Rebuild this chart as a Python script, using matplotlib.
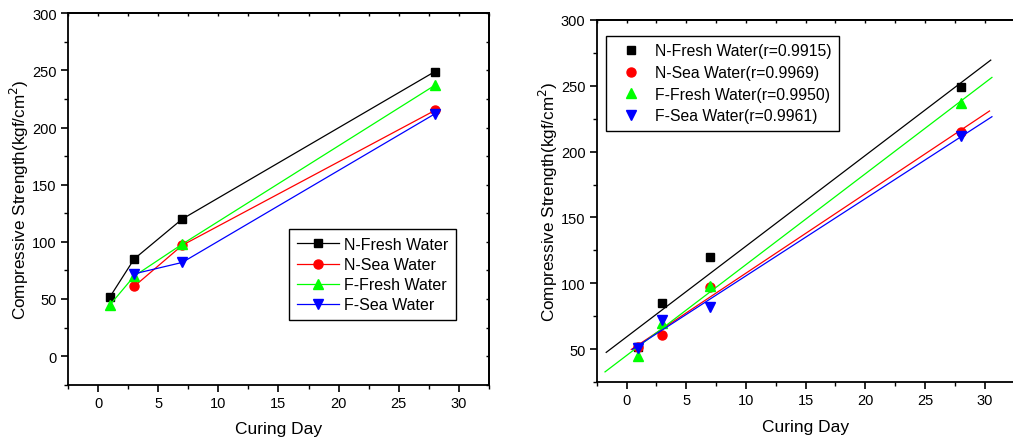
import numpy as np
import matplotlib
matplotlib.use("Agg")
import matplotlib.pyplot as plt

plt.rcParams['font.family'] = ['Liberation Sans', 'DejaVu Sans']

# ---- data ----
days = [1, 3, 7, 28]
n_fresh = [52, 85, 120, 249]
n_sea = [52, 61, 97, 215]
f_fresh = [45, 70, 98, 237]
f_sea = [51, 72, 82, 212]

labels_left = ['N-Fresh Water', 'N-Sea Water', 'F-Fresh Water', 'F-Sea Water']
r_values = ['0.9915', '0.9969', '0.9950', '0.9961']
colors = ['black', 'red', '#00ff00', 'blue']
markers = ['s', 'o', '^', 'v']
msizes = [6, 6.5, 7.5, 7.5]
# first index plotted in left panel (sea series start at day 3 there)
left_start = [0, 1, 0, 1]
# fit-line x-range in the right panel
fit_ranges = [(-1.7, 30.5), (0.4, 30.4), (-1.8, 30.6), (0.5, 30.6)]

series = [n_fresh, n_sea, f_fresh, f_sea]

fig = plt.figure(figsize=(10.13, 4.39), dpi=100)

def style_axes(ax, xlim, ylim, yticks, yminor, right_ticks=True):
    ax.set_xlim(*xlim)
    ax.set_ylim(*ylim)
    ax.set_xticks(np.arange(0, 31, 5))
    ax.set_xticks(np.arange(-2.5, 32.6, 2.5), minor=True)
    ax.set_yticks(yticks)
    ax.set_yticks(yminor, minor=True)
    for s in ax.spines.values():
        s.set_linewidth(1.3)
    ax.tick_params(which='major', direction='out', length=5, width=1.2, labelsize=10.5, pad=3)
    ax.tick_params(which='minor', direction='out', length=3, width=1.0)
    # top/right small inward ticks
    sx = ax.secondary_xaxis('top')
    sx.set_xticks(np.arange(0, 31, 5))
    sx.set_xticks(np.arange(-2.5, 32.6, 2.5), minor=True)
    sx.tick_params(which='both', direction='in', length=2.5, width=1.0, labeltop=False)
    for s in sx.spines.values():
        s.set_linewidth(1.3)
    if right_ticks:
        sy = ax.secondary_yaxis('right')
        sy.set_yticks(yticks)
        sy.set_yticks(yminor, minor=True)
        sy.tick_params(which='both', direction='in', length=2, width=1.0, labelright=False)
        for s in sy.spines.values():
            s.set_linewidth(1.3)
    ax.set_xlabel('Curing Day', fontsize=12.5, labelpad=8)
    ax.set_ylabel('Compressive Strength(kgf/cm$^2$)', fontsize=12.3, labelpad=1)

# ---- left panel ----
ax1 = fig.add_axes([0.0671, 0.1214, 0.4156, 0.846])
for y, lab, c, m, ms, st in zip(series, labels_left, colors, markers, msizes, left_start):
    ax1.plot(days[st:], y[st:], color=c, marker=m, markersize=ms, linewidth=0.9,
             label=lab)
style_axes(ax1, (-2.5, 32.5), (-25, 300), np.arange(0, 301, 50), np.arange(-25, 301, 25))
leg1 = ax1.legend(loc='upper left', bbox_to_anchor=(0.525, 0.419), fontsize=11.5,
                  frameon=True, fancybox=False, edgecolor='black', framealpha=1,
                  handlelength=2.6, handletextpad=0.35, labelspacing=0.32,
                  borderpad=0.5, borderaxespad=0)
leg1.get_frame().set_linewidth(1.0)

# ---- right panel ----
ax2 = fig.add_axes([0.589, 0.1269, 0.4126, 0.826])
for y, lab, r, c, m, ms, fr in zip(series, labels_left, r_values, colors, markers, msizes, fit_ranges):
    ax2.plot(days, y, linestyle='none', color=c, marker=m, markersize=ms,
             label=f'{lab}(r={r})')
    slope, intercept = np.polyfit(days, y, 1)
    xx = np.array(fr)
    ax2.plot(xx, slope * xx + intercept, color=c, linewidth=0.9)
style_axes(ax2, (-2.5, 32.5), (25, 300), np.arange(50, 301, 50), np.arange(25, 301, 25),
           right_ticks=False)
leg2 = ax2.legend(loc='upper left', bbox_to_anchor=(0.0215, 0.956), fontsize=11.3,
                  frameon=True, fancybox=False, edgecolor='black', framealpha=1,
                  handlelength=2.2, handletextpad=0.45, labelspacing=0.42,
                  borderpad=0.5, borderaxespad=0)
leg2.get_frame().set_linewidth(1.0)

fig.savefig('out.png', dpi=100)
